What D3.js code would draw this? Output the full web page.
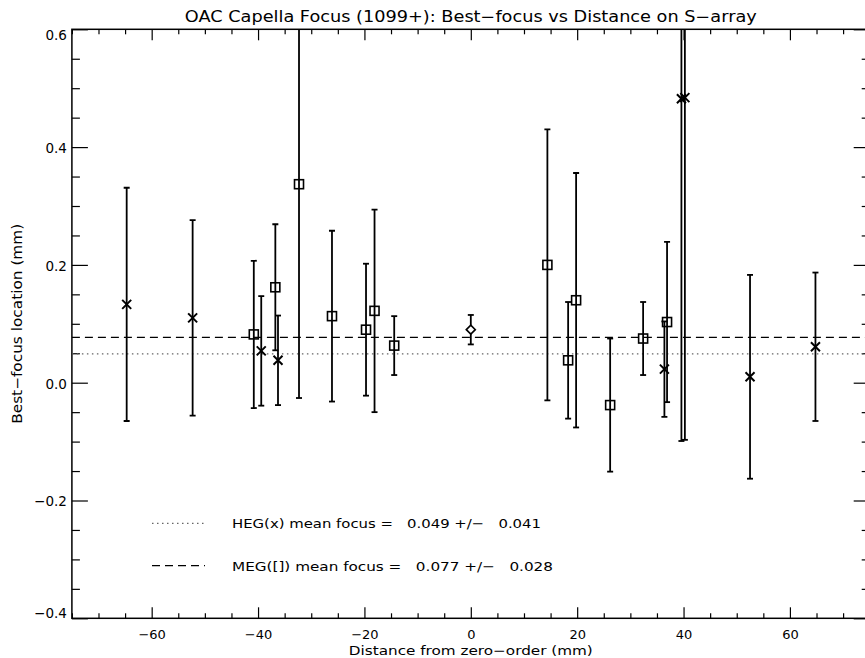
<!DOCTYPE html>
<html>
<head>
<meta charset="utf-8">
<script src="https://cdn.jsdelivr.net/npm/d3@7"></script>
<style>
  body { margin: 0; background: #fff; }
  text { font-family: "DejaVu Sans", sans-serif; fill: #000; }
</style>
</head>
<body>
<div id="chart"></div>
<script>
// HEG points (x symbols)
var hegDist = [-64.7, -52.3, -39.4, -36.25, 36.4, 39.6, 40.25, 52.5, 64.8];
var hegFocus = [0.133, 0.110, 0.054, 0.038, 0.023, 0.482, 0.484, 0.010, 0.061];
var hegErr = [0.198, 0.166, 0.093, 0.076, 0.081, 0.581, 0.581, 0.173, 0.126];

// MEG points (square symbols)
var megDist = [-40.8, -36.75, -32.3, -26.1, -19.7, -18.1, -14.4, 14.4, 18.3, 19.8, 26.2, 32.4, 36.9];
var megFocus = [0.082, 0.162, 0.337, 0.113, 0.090, 0.122, 0.063, 0.200, 0.038, 0.140, -0.038, 0.075, 0.103];
var megErr = [0.125, 0.107, 0.363, 0.145, 0.112, 0.172, 0.050, 0.230, 0.099, 0.216, 0.113, 0.062, 0.136];

// zero order (diamond)
var zeroDist = [0.0];
var zeroFocus = [0.090];
var zeroErr = [0.025];

// mean focus values
var hegMean = 0.049, hegMeanErr = 0.041;
var megMean = 0.077, megMeanErr = 0.028;

var xMajor = [-60, -40, -20, 0, 20, 40, 60];
var yMajor = [-0.4, -0.2, 0.0, 0.2, 0.4, 0.6];

var width = 865, height = 658;
var plotLeft = 71.9, plotRight = 869.7, plotTop = 29.3, plotBottom = 618.3;

var svg = d3.select("#chart").append("svg")
    .attr("width", width)
    .attr("height", height);

var xScale = d3.scaleLinear().domain([-75, 75]).range([plotLeft, plotRight]);
var yScale = d3.scaleLinear().domain([-0.4, 0.6]).range([plotBottom, plotTop]);

function minus(s) { return String(s).replace("-", "\u2212"); }

var xMinor = d3.range(-75, 76, 5).filter(function(d) { return xMajor.indexOf(d) < 0; });
var yMinor = d3.range(-8, 13).filter(function(i) { return i % 4 != 0; })
    .map(function(i) { return i * 0.05; });

// axes: major and minor ticks, pointing inward
function addAxis(axis, tx, ty) {
  var g = svg.append("g")
      .attr("transform", "translate(" + tx + "," + ty + ")")
      .call(axis);
  g.select(".domain").remove();
  g.selectAll("line").attr("stroke", "#000").attr("stroke-width", 1.2);
  return g;
}

var xb = addAxis(d3.axisBottom(xScale).tickValues(xMajor).tickSize(-11).tickPadding(11)
    .tickFormat(function(d) { return minus(d); }), 0, plotBottom);
addAxis(d3.axisBottom(xScale).tickValues(xMinor).tickSize(-5).tickFormat(""), 0, plotBottom);
addAxis(d3.axisTop(xScale).tickValues(xMajor).tickSize(-11).tickFormat(""), 0, plotTop);
addAxis(d3.axisTop(xScale).tickValues(xMinor).tickSize(-5).tickFormat(""), 0, plotTop);

var yl = addAxis(d3.axisLeft(yScale).tickValues(yMajor).tickSize(-16).tickPadding(5)
    .tickFormat(function(d) { return minus(d3.format(".1f")(d)); }), plotLeft, 0);
addAxis(d3.axisLeft(yScale).tickValues(yMinor).tickSize(-8).tickFormat(""), plotLeft, 0);
addAxis(d3.axisRight(yScale).tickValues(yMajor).tickSize(-16).tickFormat(""), plotRight, 0);
addAxis(d3.axisRight(yScale).tickValues(yMinor).tickSize(-8).tickFormat(""), plotRight, 0);

xb.selectAll("text").attr("font-size", 13).attr("font-family", "DejaVu Sans");
yl.selectAll("text").attr("font-size", 13.5).attr("font-family", "DejaVu Sans")
    .attr("dy", function(d) { return d >= 0.6 ? "0.75em" : (d <= -0.4 ? "-0.05em" : "0.4em"); });

// plot frame
svg.append("rect")
    .attr("x", plotLeft).attr("y", plotTop)
    .attr("width", plotRight - plotLeft).attr("height", plotBottom - plotTop)
    .attr("fill", "none").attr("stroke", "#000").attr("stroke-width", 1.5);

svg.append("clipPath").attr("id", "plotclip")
  .append("rect")
    .attr("x", plotLeft).attr("y", plotTop)
    .attr("width", plotRight - plotLeft).attr("height", plotBottom - plotTop);

var plot = svg.append("g").attr("clip-path", "url(#plotclip)");

// mean lines
plot.append("line")
    .attr("x1", plotLeft).attr("x2", plotRight)
    .attr("y1", yScale(hegMean)).attr("y2", yScale(hegMean))
    .attr("stroke", "#666").attr("stroke-width", 1.2)
    .attr("stroke-dasharray", "1.5,3.5");
plot.append("line")
    .attr("x1", plotLeft).attr("x2", plotRight)
    .attr("y1", yScale(megMean)).attr("y2", yScale(megMean))
    .attr("stroke", "#000").attr("stroke-width", 1.2)
    .attr("stroke-dasharray", "8,5");

function toPoints(dist, focus, err) {
  return dist.map(function(d, i) { return {x: d, y: focus[i], e: err[i]}; });
}
var heg = toPoints(hegDist, hegFocus, hegErr);
var meg = toPoints(megDist, megFocus, megErr);
var zero = toPoints(zeroDist, zeroFocus, zeroErr);

// error bars with small caps
function errorBars(data) {
  var g = plot.append("g").attr("stroke", "#000").attr("stroke-width", 1.8);
  g.selectAll(".bar").data(data).enter().append("line")
      .attr("x1", function(d) { return xScale(d.x); })
      .attr("x2", function(d) { return xScale(d.x); })
      .attr("y1", function(d) { return yScale(d.y + d.e); })
      .attr("y2", function(d) { return yScale(d.y - d.e); });
  [1, -1].forEach(function(s) {
    g.selectAll(".cap" + s).data(data).enter().append("line")
        .attr("x1", function(d) { return xScale(d.x) - 3; })
        .attr("x2", function(d) { return xScale(d.x) + 3; })
        .attr("y1", function(d) { return yScale(d.y + s * d.e); })
        .attr("y2", function(d) { return yScale(d.y + s * d.e); });
  });
}
errorBars(heg);
errorBars(meg);
errorBars(zero);

// symbols
plot.selectAll(".sq").data(meg).enter().append("rect")
    .attr("x", function(d) { return xScale(d.x) - 4.5; })
    .attr("y", function(d) { return yScale(d.y) - 4.5; })
    .attr("width", 9).attr("height", 9)
    .attr("fill", "none").attr("stroke", "#000").attr("stroke-width", 1.6);

plot.selectAll(".cross").data(heg).enter().append("path")
    .attr("d", function(d) {
      var cx = xScale(d.x), cy = yScale(d.y), r = 4.5;
      return "M" + (cx - r) + "," + (cy - r) + "L" + (cx + r) + "," + (cy + r) +
             "M" + (cx - r) + "," + (cy + r) + "L" + (cx + r) + "," + (cy - r);
    })
    .attr("stroke", "#000").attr("stroke-width", 2).attr("fill", "none");

plot.selectAll(".dia").data(zero).enter().append("path")
    .attr("d", function(d) {
      var cx = xScale(d.x), cy = yScale(d.y), r = 4.5;
      return "M" + (cx - r) + "," + cy + "L" + cx + "," + (cy - r) + "L" + (cx + r) + "," + cy + "L" + cx + "," + (cy + r) + "Z";
    })
    .attr("stroke", "#000").attr("stroke-width", 1.6).attr("fill", "#fff");

// title and axis titles (stretched to the width of the original vector font)
svg.append("text")
    .attr("x", (plotLeft + plotRight) / 2).attr("y", 22)
    .attr("text-anchor", "middle").attr("font-size", 15.5)
    .attr("textLength", 572).attr("lengthAdjust", "spacingAndGlyphs")
    .text("OAC Capella Focus (1099+): Best\u2212focus vs Distance on S\u2212array");

svg.append("text")
    .attr("x", (plotLeft + plotRight) / 2).attr("y", 655)
    .attr("text-anchor", "middle").attr("font-size", 12.5)
    .attr("textLength", 244).attr("lengthAdjust", "spacingAndGlyphs")
    .text("Distance from zero\u2212order (mm)");

svg.append("text")
    .attr("transform", "translate(22," + (plotTop + plotBottom) / 2 + ") rotate(-90)")
    .attr("text-anchor", "middle").attr("font-size", 13.5)
    .attr("textLength", 200).attr("lengthAdjust", "spacingAndGlyphs")
    .text("Best\u2212focus location (mm)");

// legend
var legend = [
  {label: "HEG(x) mean focus =", w: 309, mean: hegMean, err: hegMeanErr, dash: "1.5,3.5", color: "#666", y: 523.3},
  {label: "MEG([]) mean focus =", w: 321, mean: megMean, err: megMeanErr, dash: "8,5", color: "#000", y: 565.7}
];
legend.forEach(function(l) {
  svg.append("line")
      .attr("x1", 152).attr("x2", 205)
      .attr("y1", l.y).attr("y2", l.y)
      .attr("stroke", l.color).attr("stroke-width", 1.2)
      .attr("stroke-dasharray", l.dash);
  svg.append("text")
      .attr("x", 232).attr("y", l.y + 5).attr("font-size", 13)
      .style("white-space", "pre")
      .attr("textLength", l.w).attr("lengthAdjust", "spacingAndGlyphs")
      .text(l.label + "   " + d3.format(".3f")(l.mean) + " +/\u2212   " + d3.format(".3f")(l.err));
});
</script>
</body>
</html>
